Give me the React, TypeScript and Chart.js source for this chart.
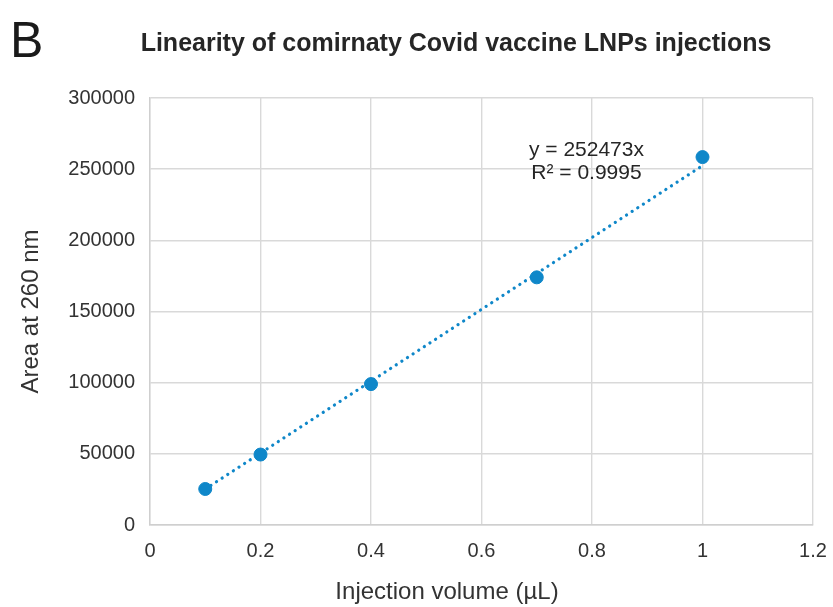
import React, { useEffect, useRef } from "react";
import { Chart, registerables } from "chart.js";

Chart.register(...registerables);

const injectionVolumes = [0.1, 0.2, 0.4, 0.7, 1.0];
const areaValues = [25300, 49500, 99000, 174000, 258500];
const trendSlope = 252473;
const trendRange = [0.1, 1.0];
const equationLines = ["y = 252473x", "R² = 0.9995"];
const xTicks = [0, 0.2, 0.4, 0.6, 0.8, 1, 1.2];
const yTicks = [0, 50000, 100000, 150000, 200000, 250000, 300000];
const panelLabel = "B";
const chartTitle = "Linearity of comirnaty Covid vaccine LNPs injections";
const xTitle = "Injection volume (µL)";
const yTitle = "Area at 260 nm";

const FONT = "'Liberation Sans', Arial, sans-serif";
const BLUE = "#0f87c9";
const TEXT = "#333333";

const overlayPlugin = {
  id: "overlay",
  afterDraw(chart: any) {
    const ctx = chart.ctx;
    ctx.save();
    ctx.fillStyle = "#1a1a1a";
    ctx.font = `50px ${FONT}`;
    ctx.textAlign = "left";
    ctx.textBaseline = "alphabetic";
    ctx.fillText(panelLabel, 10, 57);

    ctx.fillStyle = "#262626";
    ctx.font = `bold 25px ${FONT}`;
    ctx.textAlign = "center";
    ctx.textBaseline = "middle";
    ctx.fillText(chartTitle, 456, 44);

    ctx.fillStyle = TEXT;
    ctx.font = `24px ${FONT}`;
    ctx.fillText(xTitle, 447, 592);

    const xs = chart.scales.x;
    const ys = chart.scales.y;
    ctx.fillStyle = "#262626";
    ctx.font = `21px ${FONT}`;
    const cx = xs.getPixelForValue(0.79);
    ctx.fillText(equationLines[0], cx, ys.getPixelForValue(263500));
    ctx.fillText(equationLines[1], cx, ys.getPixelForValue(247300));
    ctx.restore();
  },
};

export default function App() {
  const ref = useRef<HTMLCanvasElement | null>(null);
  useEffect(() => {
    document.body.style.margin = "0";
    if (!ref.current) return;
    const chart = new Chart(ref.current, {
      type: "scatter",
      data: {
        datasets: [
          {
            label: "Trendline",
            data: trendRange.map((x) => ({ x, y: trendSlope * x })),
            showLine: true,
            borderColor: BLUE,
            borderWidth: 3.2,
            borderDash: [0.1, 6.6],
            borderCapStyle: "round",
            pointRadius: 0,
            order: 2,
          } as any,
          {
            label: "Area",
            data: injectionVolumes.map((x, i) => ({ x, y: areaValues[i] })),
            backgroundColor: BLUE,
            borderColor: BLUE,
            pointRadius: 6.5,
            pointHoverRadius: 6.5,
            order: 1,
          },
        ],
      },
      options: {
        responsive: false,
        animation: false,
        events: [],
        layout: { padding: { left: 0, right: 20, top: 98, bottom: 0 } },
        plugins: {
          legend: { display: false },
          tooltip: { enabled: false },
          title: { display: false },
        },
        scales: {
          x: {
            type: "linear",
            min: 0,
            max: 1.2,
            afterFit: (s: any) => {
              s.height = 82;
              s.paddingRight = 0;
              s.paddingLeft = 0;
            },
            afterBuildTicks: (s: any) => {
              s.ticks = xTicks.map((v) => ({ value: v }));
            },
            grid: { color: "#d9d9d9", lineWidth: 1.4, drawTicks: false },
            border: { color: "#cfcfcf", width: 1.4 },
            ticks: {
              color: TEXT,
              font: { family: FONT, size: 20 },
              padding: 14,
              maxRotation: 0,
              callback: (v: any) => String(v),
            },
          },
          y: {
            type: "linear",
            min: 0,
            max: 300000,
            afterFit: (s: any) => {
              s.width = 150;
              s.paddingTop = 0;
              s.paddingBottom = 0;
            },
            afterBuildTicks: (s: any) => {
              s.ticks = yTicks.map((v) => ({ value: v }));
            },
            grid: { color: "#d9d9d9", lineWidth: 1.4, drawTicks: false },
            border: { color: "#cfcfcf", width: 1.4 },
            ticks: {
              color: TEXT,
              font: { family: FONT, size: 20 },
              padding: 15,
              callback: (v: any) => String(v),
            },
            title: {
              display: true,
              text: yTitle,
              color: TEXT,
              font: { family: FONT, size: 24 },
              padding: { top: 17, bottom: 0 },
            },
          },
        },
      },
      plugins: [overlayPlugin],
    });
    return () => chart.destroy();
  }, []);
  return (
    <div style={{ width: 833, height: 607, background: "#ffffff" }}>
      <canvas ref={ref} width={833} height={607} />
    </div>
  );
}
